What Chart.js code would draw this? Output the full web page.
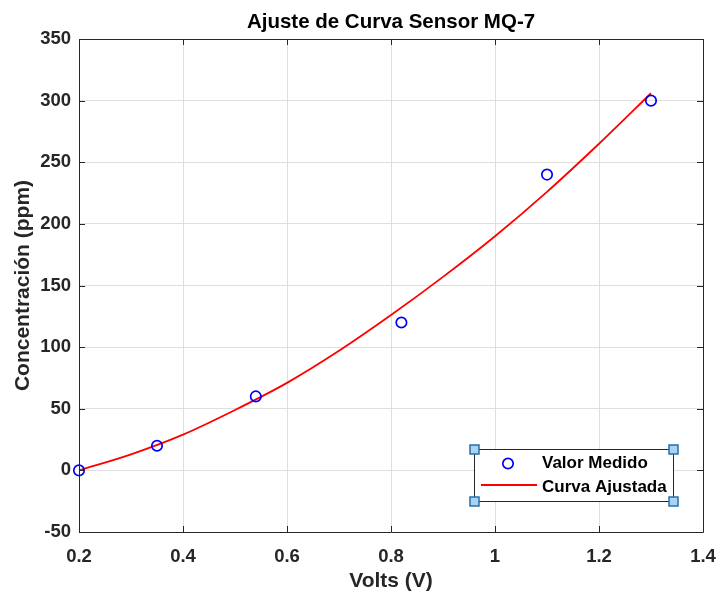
<!DOCTYPE html>
<html>
<head>
<meta charset="utf-8">
<script src="https://cdn.jsdelivr.net/npm/chart.js@4/dist/chart.umd.min.js"></script>
<style>
  html, body { margin: 0; padding: 0; background: #ffffff; }
  #wrap { width: 722px; height: 592px; }
</style>
</head>
<body>
<div id="wrap"><canvas id="c" width="722" height="592"></canvas></div>
<script>
// ---- Data ----
const measuredVolts = [0.2, 0.35, 0.54, 0.82, 1.1, 1.3];
const measuredPpm   = [0, 20, 60, 120, 240, 300];

const fitVolts = [0.2, 0.3, 0.4, 0.5, 0.6, 0.7, 0.8, 0.9, 1.0, 1.1, 1.2, 1.3];
const fitPpm   = [0, 13, 29, 49, 71, 97, 126, 157, 190, 226, 265, 306];

const xTicks = [0.2, 0.4, 0.6, 0.8, 1, 1.2, 1.4];
const yTicks = [-50, 0, 50, 100, 150, 200, 250, 300, 350];

const titleText = 'Ajuste de Curva Sensor MQ-7';
const xTitle = 'Volts (V)';
const yTitle = 'Concentración (ppm)';
const seriesNames = ['Valor Medido', 'Curva Ajustada'];

// ---- Styles ----
const FONT = '"Liberation Sans", Arial, Helvetica, sans-serif';
const AXIS_COLOR = '#262626';
const GRID_COLOR = '#dfdfdf';

const measuredPoints = measuredVolts.map((x, i) => ({ x: x, y: measuredPpm[i] }));
const fitPoints = fitVolts.map((x, i) => ({ x: x, y: fitPpm[i] }));

const frameAndLegend = {
  id: 'frameAndLegend',
  afterDatasetsDraw(chart) {
    const ctx = chart.ctx;
    const a = chart.chartArea;
    const xs = chart.scales.x, ys = chart.scales.y;
    ctx.save();
    ctx.strokeStyle = AXIS_COLOR;
    ctx.lineWidth = 1;
    ctx.beginPath();
    xs.ticks.forEach(t => {
      const px = Math.round(xs.getPixelForValue(t.value)) + 0.5;
      ctx.moveTo(px, a.bottom); ctx.lineTo(px, a.bottom - 6);
      ctx.moveTo(px, a.top); ctx.lineTo(px, a.top + 6);
    });
    ys.ticks.forEach(t => {
      const py = Math.round(ys.getPixelForValue(t.value)) + 0.5;
      ctx.moveTo(a.left, py); ctx.lineTo(a.left + 6, py);
      ctx.moveTo(a.right, py); ctx.lineTo(a.right - 6, py);
    });
    ctx.stroke();
    ctx.beginPath();
    ctx.rect(Math.round(a.left) + 0.5, Math.round(a.top) + 0.5,
             Math.round(a.right - a.left), Math.round(a.bottom - a.top));
    ctx.stroke();
    ctx.restore();
  },
  afterDraw(chart) {
    const ctx = chart.ctx;
    const a = chart.chartArea;
    const ds = chart.data.datasets;
    const bx = Math.round(a.right) - 229, by = Math.round(a.bottom) - 83, bw = 199, bh = 52;
    ctx.save();
    ctx.fillStyle = '#ffffff';
    ctx.fillRect(bx, by, bw, bh);
    ctx.strokeStyle = AXIS_COLOR;
    ctx.lineWidth = 1;
    ctx.strokeRect(bx + 0.5, by + 0.5, bw, bh);
    ctx.font = 'bold 17px ' + FONT;
    ctx.fillStyle = '#000000';
    ctx.textBaseline = 'middle';
    ctx.textAlign = 'left';
    const row1 = by + 14.5, row2 = by + 38;
    ctx.strokeStyle = ds[0].borderColor;
    ctx.lineWidth = ds[0].borderWidth;
    ctx.beginPath();
    ctx.arc(bx + 34, row1, ds[0].pointRadius, 0, Math.PI * 2);
    ctx.stroke();
    ctx.strokeStyle = ds[1].borderColor;
    ctx.lineWidth = ds[1].borderWidth;
    ctx.beginPath();
    ctx.moveTo(bx + 7, row2 - 2); ctx.lineTo(bx + 63, row2 - 2);
    ctx.stroke();
    ctx.fillText(ds[0].label, bx + 68, row1);
    ctx.fillText(ds[1].label, bx + 68, row2);
    const corners = [[bx, by], [bx + bw, by], [bx, by + bh], [bx + bw, by + bh]];
    corners.forEach(c => {
      ctx.fillStyle = '#a9d3f2';
      ctx.fillRect(c[0] - 4, c[1] - 4, 9, 9);
      ctx.strokeStyle = '#2b6ea8';
      ctx.lineWidth = 1.5;
      ctx.strokeRect(c[0] - 4, c[1] - 4, 9, 9);
    });
    ctx.restore();
  }
};

new Chart(document.getElementById('c'), {
  type: 'scatter',
  data: {
    datasets: [
      {
        label: seriesNames[0],
        data: measuredPoints,
        showLine: false,
        pointStyle: 'circle',
        pointRadius: 5.2,
        pointHoverRadius: 5.2,
        borderColor: '#0000ff',
        backgroundColor: 'rgba(0,0,0,0)',
        borderWidth: 1.7,
        clip: false,
        order: 0
      },
      {
        label: seriesNames[1],
        data: fitPoints,
        showLine: true,
        pointRadius: 0,
        pointHoverRadius: 0,
        borderColor: '#ff0000',
        backgroundColor: '#ff0000',
        borderWidth: 1.8,
        cubicInterpolationMode: 'monotone',
        clip: false,
        order: 1
      }
    ]
  },
  options: {
    responsive: false,
    animation: false,
    devicePixelRatio: 1,
    layout: { padding: { left: 0, right: 19, top: 0, bottom: 0 } },
    plugins: {
      legend: { display: false },
      tooltip: { enabled: false },
      title: {
        display: true,
        fullSize: false,
        text: titleText,
        color: '#000000',
        font: { family: FONT, size: 20.5, weight: 'bold', lineHeight: 1.2 },
        padding: { top: 10.2, bottom: 4.2 }
      }
    },
    scales: {
      x: {
        type: 'linear',
        min: 0.2,
        max: 1.4,
        afterBuildTicks: s => { s.ticks = xTicks.map(v => ({ value: v })); },
        afterFit: s => { s.height = 60; s.paddingLeft = 0; s.paddingRight = 0; },
        border: { display: false },
        grid: { color: GRID_COLOR, drawTicks: false },
        ticks: {
          color: AXIS_COLOR,
          padding: 14,
          maxRotation: 0,
          font: { family: FONT, size: 18.5, weight: 'bold' },
          callback: v => String(Math.round(v * 10) / 10)
        },
        title: {
          display: true,
          text: xTitle,
          color: AXIS_COLOR,
          font: { family: FONT, size: 21, weight: 'bold', lineHeight: 1.0 },
          padding: { top: 0, bottom: 0 }
        }
      },
      y: {
        type: 'linear',
        min: -50,
        max: 350,
        afterBuildTicks: s => { s.ticks = yTicks.map(v => ({ value: v })); },
        afterFit: s => { s.width = 79; s.paddingTop = 0; s.paddingBottom = 0; },
        border: { display: false },
        grid: { color: GRID_COLOR, drawTicks: false },
        ticks: {
          color: AXIS_COLOR,
          padding: 8,
          font: { family: FONT, size: 18.5, weight: 'bold' },
          callback: v => String(v)
        },
        title: {
          display: true,
          text: yTitle,
          color: AXIS_COLOR,
          font: { family: FONT, size: 21, weight: 'bold', lineHeight: 1.0 },
          padding: { top: 13, bottom: 0 }
        }
      }
    }
  },
  plugins: [frameAndLegend]
});
</script>
</body>
</html>
